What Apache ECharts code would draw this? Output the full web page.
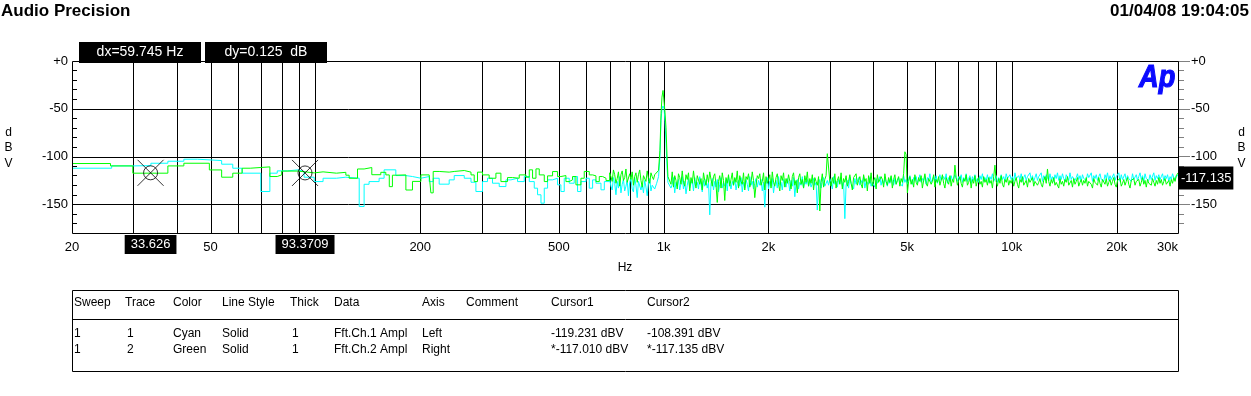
<!DOCTYPE html>
<html><head><meta charset="utf-8">
<script src="https://cdn.jsdelivr.net/npm/echarts@6.0.0/dist/echarts.min.js"></script>
<style>html,body{margin:0;padding:0;background:#fff;}#c{width:1251px;height:396px;}</style>
</head><body><div id="c"></div>
<script>
const FONT = '"Liberation Sans", Arial, sans-serif';

// ---- axis / tick definitions ----
const xTickValues = [20, 50, 200, 500, 1000, 2000, 5000, 10000, 20000, 30000];
const xGridValues = [30, 40, 50, 60, 70, 80, 90, 100, 200, 300, 400, 500, 600, 700, 800, 900, 1000, 2000, 3000, 4000, 5000, 6000, 7000, 8000, 9000, 10000, 20000];
const yMajor = [0, -50, -100, -150];
const yMinor = [-10, -20, -30, -40, -60, -70, -80, -90, -110, -120, -130, -140, -160, -170];

// ---- Trace 1 (cyan, Ch.1, left axis) : [Hz, dBV] step levels below 700 Hz ----
const cyanLow = [
[20,-112.2],[26,-109.8],[29.9,-109.5],[33.7,-107],[37.7,-104.9],[41.9,-102.8],[45.9,-104.2],[53.8,-108],[57.9,-112.2],[61.6,-117.4],
[69.7,-136.6],[74,-117.4],[77.7,-115],[83.1,-113.9],[89.3,-115.7],[92.8,-121.6],[99.2,-126.2],[105.2,-122.7],[114.9,-121.6],[122.3,-122.7],
[133.6,-152.3],[138,-129],[142.6,-126.2],[152.4,-122.7],[157.5,-113.9],[170.2,-119.9],[181.9,-120.9],[190,-122.7],[200.9,-120.9],
[212.2,-126.2],[217.9,-122.7],[226.7,-128.9],[242.2,-124.4],[250.4,-119.9],[267.6,-122.7],[279.8,-126.9],[289,-136.6],[301.9,-126.2],[312.1,-122.7],
[322.5,-127.9],[337.2,-131.4],[352.5,-124.4],[364.4,-122.7],[380.6,-126.2],[397.9,-120.9],[411.3,-126.2],[425.1,-133.1],[434.5,-140],[444.4,-148.8],
[454.2,-133.1],[464.2,-124.4],[479.8,-122.7],[495.9,-129.6],[507,-136.6],[518.3,-122.7],[535.7,-127.9],[553.7,-120.9],[566,-136.6],[578.8,-126.2],
[598.4,-122.7],[611.6,-133.1],[625.2,-124.4],[639.3,-127.9],[660.9,-134.8],[675.6,-126.2]
];
// ---- Trace 2 (green, Ch.2, right axis) ----
const greenLow = [
[20,-107.3],[25.8,-109.8],[29.9,-117.4],[37.7,-109.8],[41.9,-107],[49.6,-114],[53.8,-121.6],[57.9,-117.4],[61.6,-112.2],
[65,-110.8],[74,-120.9],[77.7,-119.2],[80,-115.2],[89.3,-117.1],[99.2,-116],[105.2,-117.4],[114.9,-116.5],[122.3,-119.5],[125,-122.7],
[132.1,-113],[138,-111.5],[145.2,-119],[154.1,-116.5],[159.3,-119.2],[163,-131.5],[166.4,-119.5],[170.2,-119.2],[181.9,-135],[190,-126],[200.9,-119.2],
[212.2,-120.9],[214.6,-138],[217.9,-115.6],[226.7,-116.3],[242.2,-115.6],[250.4,-114.6],[267.6,-116.3],[279.8,-119.2],[285.8,-126.2],[292.1,-116.3],
[301.9,-119.2],[315.5,-122.7],[329.9,-117.4],[341,-126.2],[356.2,-122],[368.2,-122.7],[384.9,-119.2],[402.4,-121.6],[411.3,-113.9],[420.4,-122.7],
[429.9,-112.9],[439.4,-119.2],[454.2,-126.2],[464.2,-120.2],[479.8,-115.7],[495.9,-120.9],[507,-119.9],[524.1,-126.2],[535.7,-124.4],[547.5,-120.9],
[560,-129.6],[578.8,-122.7],[591.6,-115.6],[611.6,-119.2],[625.2,-120.2],[639.3,-126.2],[653.5,-120.9],[668,-122.7],[683.2,-125.1]
];
// 1 kHz test tone
const cyanPeak = [[955,-128],[967,-121],[976,-100],[983,-62],[989,-50],[996,-47],[1003,-50],[1009,-63],[1016,-86],[1023,-112],[1029,-127]];
const greenPeak = [[955,-118],[967,-114.5],[976,-93.5],[983,-55],[989,-37.8],[996,-30.8],[1003,-32.6],[1009,-53.5],[1016,-70],[1023,-100.5],[1029,-121]];

const noiseStartHz = 700;
const noiseStepDecade = 1.25 / 348;
const cyanNoise = [
-124,-131,-135,-122,-128,-140,-126,-133,-121,-138,-129,-124,-136,-131,-125,-141,-127,-123,-134,-137,
-122,-130,-143,-126,-124,-135,-129,-138,-125,-132,-141,-127,-123,-136,-130,-128,-134,-128,-128,-128,
-128,-128,-128,-128,-128,-128,-128,-128,-126,-133,-129,-122,-138,-127,-131,-124,-135,-128,-121,-134,
-126,-139,-130,-123,-133,-128,-125,-136,-122,-130,-127,-134,-121,-129,-137,-125,-131,-124,-133,-127,
-161,-128,-123,-135,-126,-132,-124,-137,-129,-122,-133,-127,-131,-124,-136,-121,-129,-134,-126,-130,
-123,-135,-128,-125,-131,-122,-137,-127,-133,-124,-129,-136,-121,-130,-126,-134,-128,-123,-132,-125,
-130,-124,-136,-127,-153,-129,-122,-134,-126,-131,-123,-138,-128,-125,-133,-121,-130,-127,-135,-124,
-129,-132,-123,-127,-136,-125,-131,-122,-142,-128,-124,-134,-127,-130,-121,-133,-126,-129,-124,-131,
-125,-132,-128,-123,-130,-127,-156,-129,-124,-133,-126,-122,-131,-128,-125,-130,-123,-127,-134,-121,
-129,-126,-132,-124,-128,-122,-131,-127,-165,-130,-125,-133,-121,-128,-126,-134,-123,-129,-127,-122,
-130,-125,-128,-121,-133,-126,-124,-129,-122,-131,-127,-125,-132,-123,-128,-126,-121,-130,-124,-129,
-122,-127,-131,-124,-128,-121,-126,-130,-123,-129,-125,-122,-128,-126,-131,-120,-127,-124,-129,-123,
-120,-126,-129,-122,-125,-121,-128,-124,-119,-127,-123,-126,-120,-129,-122,-125,-118,-127,-124,-121,
-126,-120,-128,-123,-119,-125,-127,-121,-124,-118,-128,-122,-126,-120,-125,-127,-119,-123,-126,-121,
-124,-119,-127,-122,-125,-118,-126,-123,-120,-128,-121,-125,-119,-126,-123,-127,-120,-124,-118,-126,
-122,-125,-119,-127,-121,-124,-118,-126,-123,-120,-127,-122,-125,-119,-124,-121,-126,-118,-123,-125,
-119,-124,-121,-126,-117,-123,-125,-120,-124,-118,-126,-122,-119,-125,-121,-123,-117,-124,-120,-126,
-122,-118,-125,-121,-123,-117,-126,-120,-124,-119,-122,-125,-118,-124,-121,-126,-119,-123,-117,-125,
-120,-124,-118,-123,-126,-119,-122,-125,-117,-124,-121,-119,-125,-122,-118,-124,-120,-126,-119,-123,
-121,-125,-118,-122,-124,-117,-126,-120,-123,-119,-125,-121,-118,-124,-122,-126,-119,-123,-117,-125,
-120,-124,-122,-118,-125,-121,-123,-117,-126,-119,-124,-122,-118,-125,-120,-123,-121,-126,-118,-124,
-122,-119,-125,-121,-117,-124,-120,-126,-118,-123,-121,-125,-119,-124,-122,-117,-125,-120,-123,-119,
-124,-121,-118,-125,-120,-123,-119,-126,-121,-124,-118,-122,-125,-120
];
const greenNoise = [
-117,-121,-126,-114,-119,-128,-123,-116,-131,-119,-115,-125,-122,-113,-127,-129,-118,-124,-116,-130,
-121,-117,-127,-119,-114,-125,-132,-120,-118,-126,-115,-123,-128,-117,-121,-124,-119,-118,-118,-118,
-118,-118,-118,-118,-118,-118,-118,-118,-121,-129,-116,-132,-120,-125,-134,-118,-122,-129,-115,-127,
-131,-119,-124,-117,-136,-122,-128,-115,-126,-133,-120,-118,-129,-123,-135,-117,-125,-130,-119,-127,
-116,-124,-131,-121,-118,-129,-148,-126,-120,-133,-117,-125,-146,-122,-128,-119,-131,-124,-117,-130,
-122,-127,-115,-133,-120,-126,-129,-117,-135,-121,-124,-118,-132,-127,-116,-125,-143,-130,-120,-123,
-118,-130,-126,-117,-135,-121,-128,-124,-119,-133,-116,-127,-131,-122,-118,-129,-136,-120,-125,-117,
-132,-123,-128,-119,-126,-134,-121,-117,-130,-125,-138,-122,-118,-129,-124,-133,-120,-127,-116,-131,
-123,-128,-119,-135,-122,-126,-130,-121,-157,-127,-118,-132,-124,-120,-97,-99,-126,-131,-122,-128,
-118,-133,-125,-121,-129,-117,-134,-123,-127,-120,-131,-126,-119,-128,-135,-122,-124,-118,-130,-125,
-121,-129,-133,-119,-126,-123,-136,-120,-128,-117,-131,-125,-122,-134,-119,-127,-129,-121,-124,-132,
-118,-126,-130,-122,-127,-120,-133,-124,-119,-129,-125,-121,-131,-123,-127,-118,-95,-98,-138,-126,
-121,-129,-124,-132,-119,-127,-130,-122,-126,-120,-133,-125,-118,-128,-131,-123,-121,-129,-126,-119,
-132,-124,-127,-121,-130,-125,-119,-128,-133,-122,-126,-129,-120,-131,-124,-127,-109,-122,-130,-125,
-121,-128,-132,-123,-126,-119,-130,-127,-122,-133,-124,-128,-120,-131,-125,-122,-129,-126,-132,-121,
-127,-124,-130,-122,-128,-125,-133,-121,-109,-126,-131,-123,-128,-120,-129,-132,-124,-127,-122,-130,
-125,-128,-123,-131,-126,-122,-129,-133,-124,-127,-121,-130,-128,-125,-132,-123,-127,-129,-122,-131,
-126,-124,-130,-127,-123,-129,-132,-125,-121,-128,-113,-126,-131,-124,-128,-122,-130,-127,-125,-133,
-123,-129,-126,-131,-124,-127,-121,-130,-128,-125,-132,-123,-129,-126,-122,-131,-127,-124,-130,-125,
-128,-122,-131,-126,-124,-129,-133,-123,-127,-125,-130,-122,-128,-132,-124,-126,-129,-123,-131,-127,
-124,-130,-126,-122,-129,-132,-125,-127,-123,-131,-128,-124,-130,-126,-122,-129,-133,-125,-127,-123,
-130,-126,-128,-124,-131,-127,-122,-129,-125,-132,-124,-128,-126,-130,-123,-127,-131,-125,-129,-122,
-128,-124,-130,-126,-123,-129,-127,-125,-131,-124,-128,-122,-126,-120
];
const cyanEnd = [30000, -120];
const greenEnd = [30000, -117.1];

// cursors
const cursorPoints = [[33.626, -117.010], [93.3709, -117.135]];
const cursorLabels = ['33.626', '93.3709'];
const deltaLabels = ['dx=59.745 Hz', 'dy=0.125  dB'];
const rightReadout = { value: -117.135, text: '-117.135' };

// texts
const titleText = 'Audio Precision';
const dateText = '01/04/08 19:04:05';
const xName = 'Hz';
const yName = 'd\nB\nV';
const tableHeader = ['Sweep','Trace','Color','Line Style','Thick','Data','Axis','Comment','Cursor1','Cursor2'];
const tableRows = [
 ['1','1','Cyan','Solid','1','Fft.Ch.1 Ampl','Left','','-119.231 dBV','-108.391 dBV'],
 ['1','2','Green','Solid','1','Fft.Ch.2 Ampl','Right','','*-117.010 dBV','*-117.135 dBV']
];

// low-frequency part: stepped FFT bins; upper part: dense noise + 1 kHz tone
function buildLow(low, noise) {
  return low.concat([[noiseStartHz, noise[0]]]);
}
function buildHigh(peak, noise, end) {
  const pts = [];
  noise.forEach((v, i) => {
    const f = noiseStartHz * Math.pow(10, i * noiseStepDecade);
    if (f < 950 || f > 1035) pts.push([f, v]);
  });
  peak.forEach(p => pts.push(p));
  pts.push(end);
  pts.sort((a, b) => a[0] - b[0]);
  return pts;
}
const cyanLowData = buildLow(cyanLow, cyanNoise);
const greenLowData = buildLow(greenLow, greenNoise);
const cyanHighData = buildHigh(cyanPeak, cyanNoise, cyanEnd);
const greenHighData = buildHigh(greenPeak, greenNoise, greenEnd);

const fmtHz = v => { v = Math.round(v); return v >= 1000 ? (v / 1000) + 'k' : String(v); };
const fmtDb = v => v === 0 ? '+0' : String(Math.round(v));

const chart = echarts.init(document.getElementById('c'), null, { renderer: 'canvas', width: 1251, height: 396 });

const CYAN = '#00ffff', GREEN = '#00ff00';
const lineSeries = (name, yi, data, color, step, z) => ({
  type: 'line', name, yAxisIndex: yi, data, step, showSymbol: false, symbol: 'none', silent: true, z,
  lineStyle: { color, width: 1 }
});

const option = {
  animation: false,
  backgroundColor: '#fff',
  textStyle: { fontFamily: FONT },
  grid: { left: 72, top: 61, right: 73, bottom: 163, show: false, containLabel: false, outerBoundsMode: 'none' },
  xAxis: {
    type: 'log', logBase: 10, min: 20, max: 30000,
    axisLine: { show: false }, axisTick: { show: false }, splitLine: { show: false },
    axisLabel: { customValues: xTickValues, formatter: fmtHz, color: '#000', fontSize: 13, fontFamily: FONT, margin: 8, hideOverlap: false, alignMaxLabel: 'right' }
  },
  yAxis: [
    { type: 'value', position: 'left', min: -180, max: 0,
      axisLine: { show: false }, splitLine: { show: false },
      axisTick: { show: true, inside: true, length: 5, customValues: yMinor, lineStyle: { color: '#000', width: 1 } },
      axisLabel: { customValues: yMajor, formatter: fmtDb, color: '#000', fontSize: 13, fontFamily: FONT, margin: 4 } },
    { type: 'value', position: 'right', min: -180, max: 0,
      axisLine: { show: false }, splitLine: { show: false },
      axisTick: { show: true, length: 12, customValues: yMajor, lineStyle: { color: '#808080', width: 1 } },
      axisLabel: { customValues: yMajor, formatter: fmtDb, color: '#000', fontSize: 13, fontFamily: FONT, margin: 13 } },
    { type: 'value', position: 'right', min: -180, max: 0,
      axisLine: { show: false }, splitLine: { show: false },
      axisTick: { show: true, length: 6, customValues: yMinor, lineStyle: { color: '#808080', width: 1 } },
      axisLabel: { show: false } }
  ],
  series: [
    { type: 'custom', name: 'vgrid', silent: true, z: 1, xAxisIndex: 0, yAxisIndex: 0,
      data: xGridValues.map(v => [v, -90]),
      renderItem: (params, api) => {
        const p = api.coord([api.value(0), api.value(1)]);
        const cs = params.coordSys;
        const x = Math.round(p[0]) + 0.5;
        return { type: 'line', shape: { x1: x, y1: cs.y, x2: x, y2: cs.y + cs.height }, style: { stroke: '#000', lineWidth: 1 } };
      } },
    { type: 'custom', name: 'hgrid', silent: true, z: 1, xAxisIndex: 0, yAxisIndex: 0,
      data: yMajor.filter(v => v !== 0).map(v => [100, v]),
      renderItem: (params, api) => {
        const p = api.coord([api.value(0), api.value(1)]);
        const cs = params.coordSys;
        const y = Math.round(p[1]) + 0.5;
        return { type: 'line', shape: { x1: cs.x, y1: y, x2: cs.x + cs.width, y2: y }, style: { stroke: '#000', lineWidth: 1 } };
      } },
    lineSeries('Fft.Ch.1 Ampl', 0, cyanLowData, CYAN, 'end', 3),
    lineSeries('Fft.Ch.1 Ampl hi', 0, cyanHighData, CYAN, false, 3),
    lineSeries('Fft.Ch.2 Ampl', 1, greenLowData, GREEN, 'end', 4),
    lineSeries('Fft.Ch.2 Ampl hi', 1, greenHighData, GREEN, false, 4),
    { type: 'scatter', name: 'cursorCircle', yAxisIndex: 1, data: cursorPoints, symbol: 'circle', symbolSize: 14, silent: true, z: 6,
      itemStyle: { color: 'rgba(0,0,0,0)', borderColor: '#000', borderWidth: 1 } },
    { type: 'scatter', name: 'cursorX', yAxisIndex: 1, data: cursorPoints, symbol: 'path://M0,0L24,24M24,0L0,24', symbolSize: 26, silent: true, z: 6,
      itemStyle: { color: 'rgba(0,0,0,0)', borderColor: '#000', borderWidth: 1 } }
  ]
};
chart.setOption(option);

// ---- annotations (text, boxes) ----
const graphics = [];
const txt = (id, x, y, text, opts) => graphics.push(Object.assign({ type: 'text', id, x, y, z: 20,
  style: Object.assign({ text, fill: '#000', font: '13px ' + FONT, align: 'left', verticalAlign: 'middle' }, opts || {}) }));

// plot border
graphics.push({ type: 'rect', id: 'border', z: 10, shape: { x: 72.5, y: 61.5, width: 1106, height: 172 }, style: { fill: 'none', stroke: '#000', lineWidth: 1 } });

txt('title', 1, 11, titleText, { font: 'bold 17px ' + FONT });
txt('date', 1249, 11, dateText, { font: 'bold 17px ' + FONT, align: 'right' });

// dx / dy boxes
[[79, deltaLabels[0]], [205, deltaLabels[1]]].forEach((d, i) => {
  graphics.push({ type: 'rect', id: 'dbox' + i, z: 15, shape: { x: d[0], y: 42, width: 122, height: 21 }, style: { fill: '#000' } });
  txt('dtxt' + i, d[0] + 61, 52.5, d[1], { fill: '#fff', font: '14px ' + FONT, align: 'center' });
});

// cursor labels under x axis
cursorPoints.forEach((c, i) => {
  const px = chart.convertToPixel({ xAxisIndex: 0 }, c[0]);
  txt('clab' + i, px, 244.5, cursorLabels[i], { fill: '#fff', backgroundColor: '#000', padding: [3, 6, 3, 6], lineHeight: 13, align: 'center' });
});

// right readout
const ry = chart.convertToPixel({ yAxisIndex: 1 }, rightReadout.value);
txt('rread', 1179, ry + 5, rightReadout.text, { fill: '#fff', backgroundColor: '#000', padding: [5, 2, 5, 2], lineHeight: 13 });

// axis names
txt('xname', 625, 268, xName, { font: '12px ' + FONT, align: 'center' });
txt('ynameL', 8.5, 148, yName, { font: '12px ' + FONT, align: 'center', lineHeight: 15.5 });
txt('ynameR', 1241.5, 148, yName, { font: '12px ' + FONT, align: 'center', lineHeight: 15.5 });

// Ap logo
graphics.push({ type: 'text', id: 'logo', x: 1139, y: 62, z: 20, scaleX: 0.85,
  style: { text: 'Ap', fill: '#0a0aff', stroke: '#0a0aff', lineWidth: 1.2, font: 'italic bold 32px ' + FONT, align: 'left', verticalAlign: 'top' } });

// table
graphics.push({ type: 'rect', id: 'tbox', z: 10, shape: { x: 72.5, y: 290.5, width: 1106, height: 81 }, style: { fill: 'none', stroke: '#000', lineWidth: 1 } });
graphics.push({ type: 'line', id: 'tsep', z: 10, shape: { x1: 72.5, y1: 319.5, x2: 1178.5, y2: 319.5 }, style: { stroke: '#000', lineWidth: 1 } });
const colX = [74, 125, 173, 222, 290, 334, 422, 466, 551, 647];
tableHeader.forEach((h, j) => txt('th' + j, colX[j], 303, h, { font: '12px ' + FONT }));
tableRows.forEach((r, i) => r.forEach((c, j) => { if (c) txt('td' + i + '_' + j, colX[j] + (j === 1 || j === 4 ? 2 : 0), 334 + i * 15.5, c, { font: '12px ' + FONT }); }));

chart.setOption({ graphic: { elements: graphics } });
</script>
</body></html>
